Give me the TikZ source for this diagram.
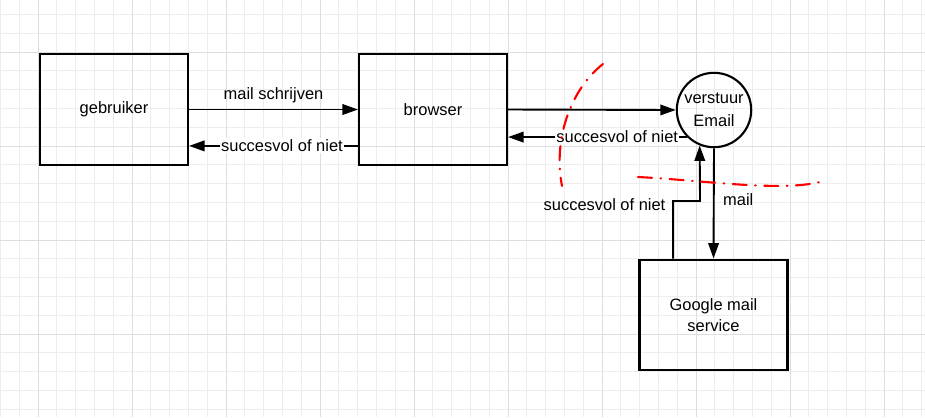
\documentclass[tikz,border=0pt]{standalone}
\usepackage{fontspec}
\setmainfont{Liberation Sans}
\usetikzlibrary{arrows.meta,positioning}

\tikzset{
  minorline/.style={draw=black!7, line width=0.5pt},
  majorline/.style={draw=black!13, line width=0.7pt},
  blok/.style={draw, line width=1.5pt, minimum width=3.7cm, minimum height=2.77cm,
    align=center, font=\fontsize{11.7}{15}\selectfont},
  proces/.style={draw, circle, line width=1.5pt, minimum size=1.86cm, inner sep=0pt,
    align=center, font=\fontsize{11.7}{16.5}\selectfont},
  pijl/.style={line width=1.35pt, -{Triangle[length=11pt,width=7.5pt]}},
  label/.style={font=\fontsize{11.7}{14}\selectfont, inner sep=1pt},
  grens/.style={draw=red, line width=1.5pt, line cap=round,
    dash pattern=on 10pt off 6pt on 0.5pt off 6pt}
}

\begin{document}
\begin{tikzpicture}[x=0.025cm, y=-0.025cm]
                    \useasboundingbox (0,0) rectangle (925,417);
                    \fill[white] (0,0) rectangle (925,417);

                    % Drawing grid
                    \foreach \k in {-2,...,47} {%
                      \draw[minorline] ({38+18.8*\k},0) -- ({38+18.8*\k},417);}
                    \foreach \k in {-3,...,19} {%
                      \draw[minorline] (0,{52+18.8*\k}) -- (925,{52+18.8*\k});}
                    \foreach \k in {0,5,...,45} {%
                      \draw[majorline] ({38+18.8*\k},0) -- ({38+18.8*\k},417);}
                    \foreach \k in {0,5,10,15} {%
                      \draw[majorline] (0,{52+18.8*\k}) -- (925,{52+18.8*\k});}

                    % Marking box gebruiker
                    \node[blok] (gebruiker) at (114,109.5) {gebruiker};%

                    % Marking box browser
                    \node[blok] (browser) at (433,109.5) {browser};%

                    % Marking circle verstuur
                    \node[proces] (verstuur) at (714,110) {verstuur\\Email};%

                    % Marking box google
                    \node[blok] (google) at (713.5,315) {Google mail\\service};%

                    % Drawing arrow gebruiker browser
                    \draw[pijl] (gebruiker.east) -- (browser.west)
                      node[label, midway, above=3pt] {mail schrijven};%

                    % Drawing arrow browser gebruiker
                    \draw[pijl] ([yshift=-0.91cm]browser.west) -- ([yshift=-0.91cm]gebruiker.east)
                      node[label, pos=0.45, fill=white] {succesvol of niet};%

                    % Drawing arrow browser verstuur
                    \draw[pijl] (browser.east) -- (verstuur.west);%

                    % Drawing arrow verstuur browser
                    \draw[pijl] (verstuur.225) -- (verstuur.225 -| browser.east)
                      node[label, pos=0.39, fill=white] {succesvol of niet};%

                    % Drawing arrow verstuur google
                    \draw[pijl] (verstuur.south) -- (google.north)
                      node[label, pos=0.47, right=5pt] {mail};%

                    % Drawing arrow google verstuur
                    \coordinate (bocht) at (700,201);
                    \draw[pijl] ([xshift=-1.01cm]google.north) |- (bocht) -- (verstuur.248);%
                    \node[label, anchor=east] (terug) at (667,205) {succesvol of niet};%

                    % Drawing red boundary lines
                    \draw[grens] (603,64) .. controls (570,90) and (553,140) .. (562,186);%
                    \draw[grens] (638,177) .. controls (700,180) and (780,192) .. (820,182);%
\end{tikzpicture}
\end{document}
